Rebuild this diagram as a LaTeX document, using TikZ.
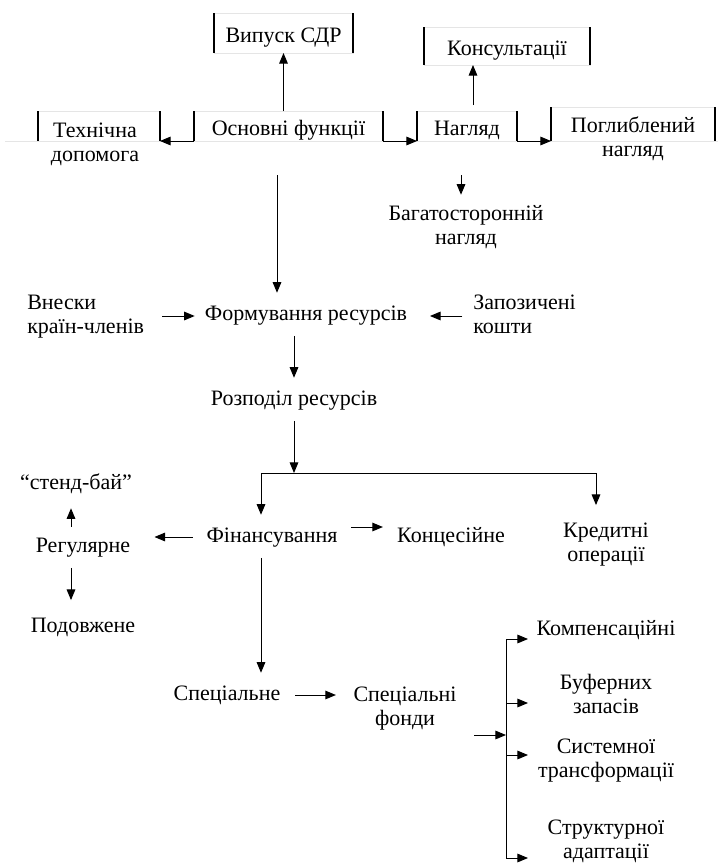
\documentclass[tikz,border=0pt]{standalone}
\usepackage{fontspec}
\setmainfont{Liberation Serif}
\usepackage{tikz}
\usetikzlibrary{arrows.meta}

\begin{document}
\begin{tikzpicture}[x=0.75pt,y=0.75pt,yscale=-1,xscale=1,
  txt/.style={font=\fontsize{16.5}{18}\selectfont, inner sep=0pt, text height=12pt, text depth=4pt, align=center},
  txtt/.style={txt, text height=30pt},
  topbox/.style={txt, draw=black!10, line width=0.75pt, outer sep=0pt, text height=15pt, text depth=1pt},
  side/.style={line width=1.5pt},
  faint/.style={draw=black!10, line width=0.75pt},
  ln/.style={line width=0.75pt},
  arr/.style={line width=0.75pt, -{Triangle[length=8pt,width=6.5pt]}}]
\useasboundingbox (0,0) rectangle (718,864);

%Shape: top row of boxes
\draw[faint] (5,141) -- (718,141);
\node[topbox, minimum width=104.25pt, minimum height=30pt] (vypusk) at (283.5,33) {Випуск СДР};
\node[topbox, minimum width=124.5pt, minimum height=28.5pt] (konsult) at (507,46) {Консультації};
\node[topbox, minimum width=91.5pt, minimum height=22.5pt] (tekhn) at (99,126) {};
\node[topbox, minimum width=141.75pt, minimum height=22.5pt] (osnovni) at (288.5,126) {Основні функції};
\node[topbox, minimum width=75pt, minimum height=22.5pt] (nahlyad) at (467,126) {Нагляд};
\node[topbox, minimum width=123pt, minimum height=25.5pt] (pohlyb) at (633,124) {};
\foreach \b in {vypusk,konsult,tekhn,osnovni,nahlyad,pohlyb}
  \draw[side] (\b.north west) -- (\b.south west) (\b.north east) -- (\b.south east);

% Text Node
\node[txtt] (tekhnT) at (95,144) {Технічна\\допомога};
\node[txtt] (pohlybT) at (633,139) {Поглиблений\\нагляд};
\node[txtt] (bahato) at (466,227) {Багатосторонній\\нагляд};
\node[txtt, align=left, anchor=west] (vnesky) at (27,316) {Внески\\країн-членів};
\node[txt] (formuv) at (306,315) {Формування ресурсів};
\node[txtt, align=left, anchor=west] (zapoz) at (473,316) {Запозичені\\кошти};
\node[txt] (rozpod) at (294,400) {Розподіл ресурсів};
\node[txt] (standby) at (76,484) {“стенд-бай”};
\node[txt] (rehul) at (83,547) {Регулярне};
\node[txt] (podovzh) at (83,627) {Подовжене};
\node[txt] (finans) at (272,537) {Фінансування};
\node[txt] (konces) at (451,537) {Концесійне};
\node[txtt] (kredyt) at (606,544) {Кредитні\\операції};
\node[txt] (spets) at (227,695) {Спеціальне};
\node[txtt] (fondy) at (405,708) {Спеціальні\\фонди};
\node[txt] (komp) at (606,630) {Компенсаційні};
\node[txtt] (bufer) at (606,696) {Буферних\\запасів};
\node[txtt] (system) at (606,760) {Системної\\трансформації};
\node[txtt] (struct) at (606,841) {Структурної\\адаптації};

\coordinate (bhIn) at (461,175);
\coordinate (fmIn) at (277,175);
\coordinate (brL) at (261,473);
\coordinate (brR) at (596,473);
\coordinate (bkTop) at (506,639);
\coordinate (bkBot) at (506,858);
\coordinate (bkIn) at (506,735);

%Shape: arrows of the top row
\draw[arr] (vypusk.south |- osnovni.north) -- (vypusk.south);
\path (nahlyad.north) ++(6,-6) coordinate (nhUp);
\draw[arr] (nhUp) -- (nhUp |- konsult.south);
\draw[arr] (osnovni.south west) -- (tekhn.south east);
\draw[arr] (osnovni.south east) -- (nahlyad.south west);
\draw[arr] (nahlyad.south east) -- (pohlyb.south west);
\draw[arr, shorten >=7pt] (bhIn) -- (bhIn |- bahato.north);

%Shape: resources
\draw[arr, shorten >=8.5pt] (fmIn) -- (fmIn |- formuv.north);
\draw[arr, shorten <=13.5pt, shorten >=7.5pt] (vnesky.east) -- (vnesky.east -| formuv.west);
\draw[arr, shorten <=8pt, shorten >=17pt] (zapoz.west) -- (zapoz.west -| formuv.east);
\draw[arr, shorten <=7.5pt, shorten >=8.5pt] (formuv.south -| rozpod.north) -- (rozpod.north);
\draw[arr, shorten <=7.5pt] (rozpod.south) -- (rozpod.south |- brL);
\draw[ln] (brL) -- (brR);
\draw[arr, shorten >=8.5pt] (brL) -- (brL |- finans.north);
\draw[arr, shorten >=12pt] (brR) -- (brR |- kredyt.north);

%Shape: financing
\draw[arr, shorten <=10pt, shorten >=18pt] (finans.west) -- (finans.west -| rehul.east);
\draw[arr, shorten <=10pt, shorten >=10.5pt] ([yshift=-7.5pt]finans.east) -- ([yshift=-7.5pt]konces.west);
\path (rehul.north) ++(-12,0) coordinate (rgUp);
\path (rehul.south) ++(-12,0) coordinate (rgDn);
\draw[arr, shorten <=7pt, shorten >=10pt] (rgUp) -- (rgUp |- standby.south);
\draw[arr, shorten <=7.5pt, shorten >=12pt] (rgDn) -- (rgDn |- podovzh.north);
\draw[arr, shorten <=7.5pt, shorten >=8.5pt] (brL |- finans.south) -- (brL |- spets.north);
\draw[arr, shorten <=11pt, shorten >=13pt] (spets.east) -- (spets.east -| fondy.west);

%Shape: special funds
\draw[arr, shorten <=13pt] (fondy.east |- bkIn) -- (bkIn);
\draw[ln] (bkTop) -- (bkBot);
\foreach \yy [count=\i] in {639,703,755,858}
  \draw[arr] (506,\yy) coordinate (bk\i) -- ++(22,0);

\end{tikzpicture}
\end{document}
